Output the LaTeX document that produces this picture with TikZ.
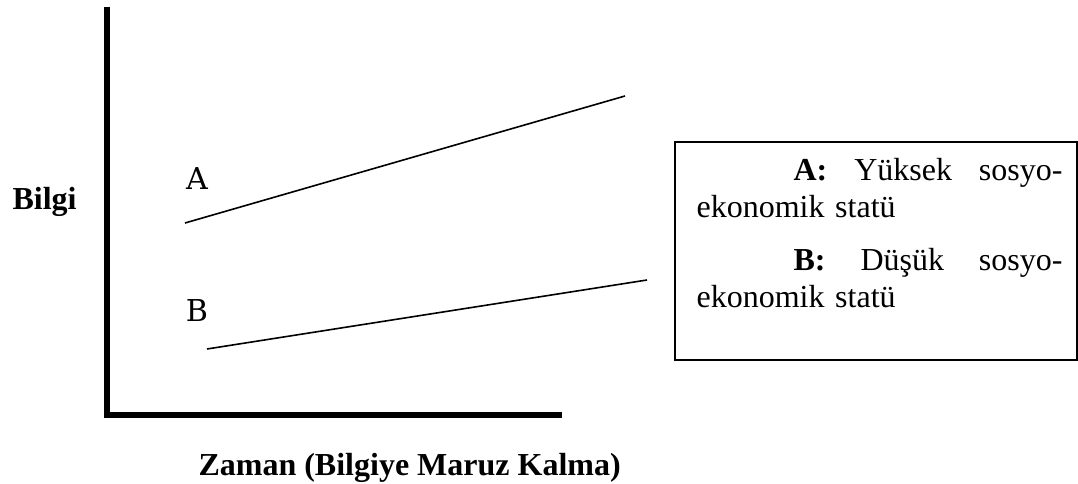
\documentclass[tikz,border=0pt]{standalone}
\usepackage{fontspec}
\setmainfont{Liberation Serif}
\newfontfamily\labelfont{DejaVu Serif}

\tikzstyle{axis} = [draw,line width=2pt,-]
\tikzstyle{trend} = [draw,line width=0.6pt,-]
\tikzstyle{curve label}=[inner sep=0pt,anchor=base,font=\labelfont\fontsize{11.3}{13}\selectfont]
\tikzstyle{axis label}=[inner sep=0pt,anchor=base west,font=\bfseries\fontsize{12}{14}\selectfont]
\tikzstyle{legend}=[draw,line width=0.75pt,inner sep=0pt]
\tikzstyle{legend text}=[inner sep=0pt,anchor=north west,text width=137.25pt,align=left,font=\fontsize{12}{13.9}\selectfont]

\begin{document}
\begin{tikzpicture}[x=0.375pt,y=-0.375pt]
	\useasboundingbox (0,0) rectangle (1078,484);
		% First we draw the axes
		\coordinate (top) at (107,7);
		\coordinate (origin) at (107,415);
		\coordinate (right) at (562,415);
		\draw[axis] (top) -- (origin) -- (right);
		\node[axis label] (bilgi) at (12,210) {Bilgi};
		\node[axis label] (zaman) at (198,475) {Zaman (Bilgiye Maruz Kalma)};
		% Trend lines for both groups
		\coordinate (a1) at (185,223);
		\coordinate (a2) at (625,96);
		\coordinate (b1) at (207,349);
		\coordinate (b2) at (647,280);
		\foreach \source/ \dest in {a1/a2, b1/b2}
			\path[trend] (\source) -- (\dest);
		\node[curve label] (la) at (197,190) {A};
		\node[curve label] (lb) at (197,322) {B};
		% Legend box
		\node[legend,minimum width=150.4pt,minimum height=81.75pt] (legend) at (876,251) {};
		\node[legend text] (key) at (696,158) {\hspace*{36.4pt}\textbf{A:}\hfill Yüksek\hfill sosyo-\\ekonomik statü\\[6pt]\hspace*{36.4pt}\textbf{B:}\hfill Düşük\hfill sosyo-\\ekonomik statü};
\end{tikzpicture}
\end{document}
